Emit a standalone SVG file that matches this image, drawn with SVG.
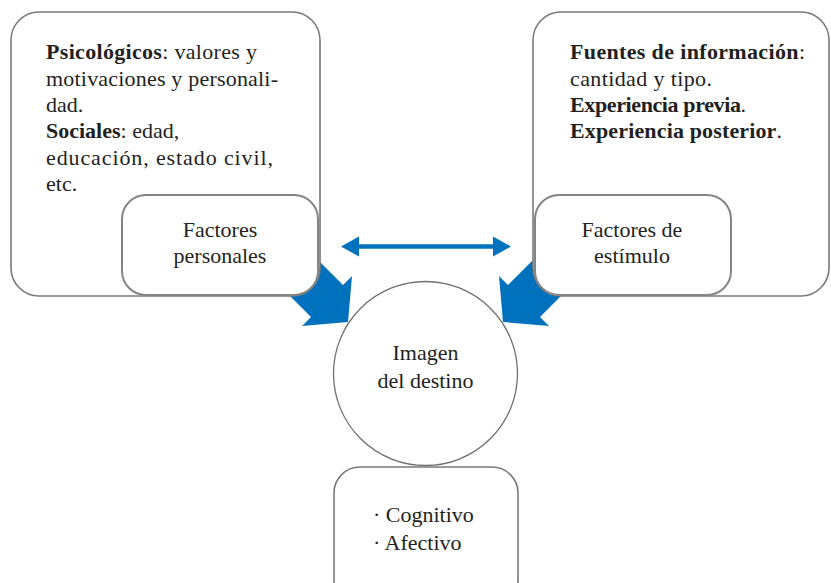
<svg xmlns="http://www.w3.org/2000/svg" width="831" height="583" viewBox="0 0 831 583">
<style>
.box{fill:#fff;stroke:#7a7a7a;stroke-width:1.6}
.sbox{fill:#fff;stroke:#858585;stroke-width:2}
.circ{fill:#fff;stroke:#6d6e71;stroke-width:1.3}
.t{font-size:22px;fill:#231f20}
.c{text-anchor:middle}
.b{font-weight:bold}
.blue{fill:#0071bc}
</style>
<rect width="831" height="583" fill="#fff"/>
<g id="connectors">
  <polygon class="blue" points="348,322 352,276 343,285 299,241 267,273 311,317 302,326"/>
  <polygon class="blue" points="503,322 499,276 508,285 552,241 584,273 540,317 549,326"/>
  <line x1="355" y1="246.5" x2="497" y2="246.5" stroke="#0071bc" stroke-width="4.5"/>
  <polygon class="blue" points="341,246.5 359,236.5 359,256.5"/>
  <polygon class="blue" points="511,246.5 493,236.5 493,256.5"/>
</g>
<g font-family="Liberation Serif, Times New Roman, serif">
<g id="psicologicos">
  <rect class="box" x="11" y="12" width="309" height="284" rx="28"/>
  <text class="t" x="46" y="59" textLength="211"><tspan class="b">Psicológicos</tspan>: valores y</text>
  <text class="t" x="46" y="85.5" textLength="232">motivaciones y personali-</text>
  <text class="t" x="46" y="112">dad.</text>
  <text class="t" x="46" y="138"><tspan class="b">Sociales</tspan>: edad,</text>
  <text class="t" x="46" y="164.5" textLength="227">educación, estado civil,</text>
  <text class="t" x="46" y="191">etc.</text>
</g>
<g id="fuentes">
  <rect class="box" x="533" y="12" width="296" height="284" rx="28"/>
  <text class="t" x="570" y="59" textLength="235"><tspan class="b">Fuentes de información</tspan>:</text>
  <text class="t" x="570" y="85.5" textLength="142">cantidad y tipo.</text>
  <text class="t" x="570" y="112" textLength="176"><tspan class="b">Experiencia previa</tspan>.</text>
  <text class="t" x="570" y="138" textLength="212"><tspan class="b">Experiencia posterior</tspan>.</text>
</g>
<g id="factores-personales">
  <rect class="sbox" x="122" y="195" width="196" height="100" rx="24"/>
  <text class="t c" x="220" y="237">Factores</text>
  <text class="t c" x="220" y="263">personales</text>
</g>
<g id="factores-estimulo">
  <rect class="sbox" x="535" y="195" width="196" height="100" rx="24"/>
  <text class="t c" x="632" y="237">Factores de</text>
  <text class="t c" x="632" y="263">estímulo</text>
</g>
<g id="imagen-destino">
  <circle class="circ" cx="425.5" cy="373.5" r="92"/>
  <text class="t c" x="425.5" y="360">Imagen</text>
  <text class="t c" x="425.5" y="388">del destino</text>
</g>
<g id="componentes">
  <rect class="box" x="334" y="467" width="184" height="140" rx="26"/>
  <text class="t" x="373" y="522">· Cognitivo</text>
  <text class="t" x="373" y="550">· Afectivo</text>
</g>
</g>
</svg>
